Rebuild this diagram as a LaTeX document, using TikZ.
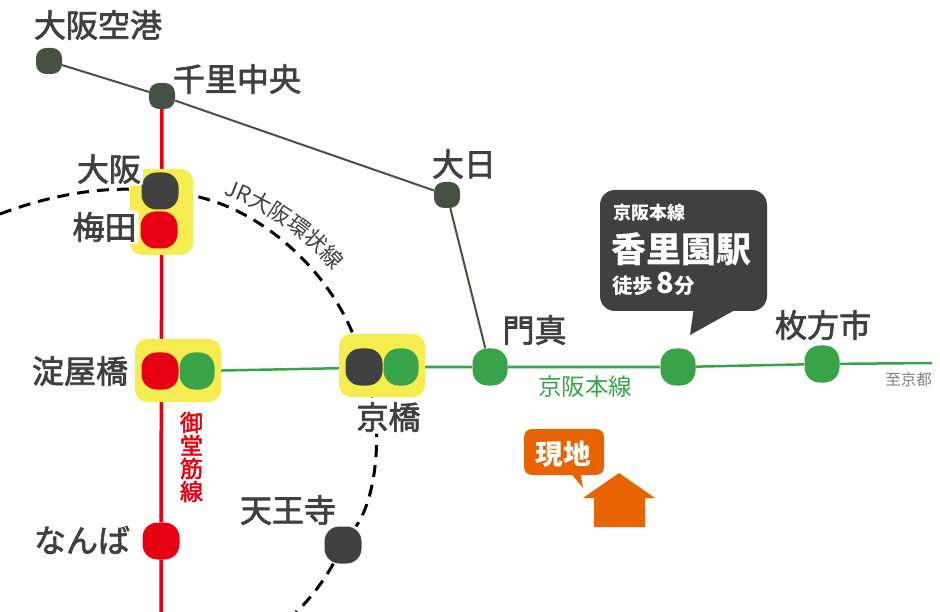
\documentclass[tikz,border=0pt]{standalone}
\usepackage{fontspec}
\setmainfont{Noto Sans CJK JP}
\newfontface\medface[FakeBold=2.2]{Noto Sans CJK JP}
\usetikzlibrary{backgrounds,decorations.text}
\definecolor{inkgray}{HTML}{404040}
\definecolor{linegreen}{HTML}{38A348}
\definecolor{linered}{HTML}{E60012}
\definecolor{linedark}{HTML}{465044}
\definecolor{hubyellow}{HTML}{F5EC50}
\definecolor{siteorange}{HTML}{E86400}
\tikzset{
	small stop/.style={fill=linedark, rectangle, rounded corners=10pt, minimum size=26pt, inner sep=0pt},
	big stop/.style={rectangle, rounded corners=15pt, minimum size=37pt, inner sep=0pt},
	green stop/.style={big stop, fill=linegreen, minimum width=35pt},
	hub/.style={fill=hubyellow, rectangle, rounded corners=12pt, inner sep=0pt},
	stop label/.style={text=inkgray, inner sep=0pt, font=\fontsize{32}{32}\medface},
	halo label/.style={stop label, fill=white, rounded corners=3pt, inner sep=2pt},
	ring/.style={black, line width=3pt, dash pattern=on 12pt off 8pt},
	callout text/.style={text=white, inner sep=0pt, anchor=west},
}
\begin{document}
\begin{tikzpicture}[x=1pt, y=-1pt]
	\useasboundingbox (0,0) rectangle (940,612);
	%\draw[help lines] (0,0) grid[step=100pt] (940,612);
	\node[hub, minimum width=63pt, minimum height=86pt] (umedahub) at (161.5,212) {};
	\node[hub, minimum width=86pt, minimum height=63pt] (yodoyabashihub) at (178,370.5) {};
	\node[hub, minimum width=86pt, minimum height=63pt] (kyobashihub) at (382,365.5) {};

	\node[small stop] (airport) at (49,61) {};
	\node[small stop] (senri) at (162,96) {};
	\node[small stop] (dainichi) at (447,195) {};
	\node[big stop, fill=inkgray] (osaka) at (160,191) {};
	\node[big stop, fill=linered] (umeda) at (159,230) {};
	\node[big stop, fill=linered] (yodoyabashi) at (160,371) {};
	\node[green stop] (yodoyabashigreen) at (197,371) {};
	\node[big stop, fill=inkgray] (kyobashi) at (364,367) {};
	\node[green stop] (kyobashigreen) at (401,367) {};
	\node[big stop, fill=linered] (namba) at (161,541) {};
	\node[big stop, fill=inkgray] (tennoji) at (343,545) {};
	\node[green stop] (kadoma) at (490,367) {};
	\node[green stop] (kori) at (678,367) {};
	\node[green stop] (hirakata) at (822,364) {};

	\coordinate (redend) at (161,612);
	\coordinate (kyotoend) at (932,363);
	\coordinate (ringwest) at (0,214);
	\coordinate (ringsouth) at (296,612);

	\node[stop label] (airportlabel) at (98,25) {大阪空港};
	\node[stop label] (senrilabel) at (237,79) {千里中央};
	\node[halo label] (osakalabel) at (109,169) {大阪};
	\node[halo label] (umedalabel) at (104.5,227) {梅田};
	\node[stop label] (yodoyabashilabel) at (80,371) {淀屋橋};
	\node[stop label] (nambalabel) at (82,540) {なんば};
	\node[stop label] (tennojilabel) at (288,510) {天王寺};
	\node[halo label] (kyobashilabel) at (388.5,417) {京橋};
	\node[stop label] (dainichilabel) at (464,164) {大日};
	\node[stop label] (kadomalabel) at (534.5,330) {門真};
	\node[stop label] (hirakatalabel) at (823,325) {枚方市};

	\node[text=linegreen, inner sep=0pt, font=\fontsize{23.5}{24}\selectfont] (keihanlabel) at (585,387) {京阪本線};
	\node[text=gray, inner sep=0pt, font=\fontsize{15.5}{16}\selectfont] (kyotolabel) at (908.5,380) {至京都};
	\node[text=linered, inner sep=0pt, align=center, font=\fontsize{23}{23}\medface] (midosujilabel) at (191.5,457) {御\\堂\\筋\\線};
	\path[decorate, decoration={text along path, text align={align=center},
		text={|\fontsize{22}{22}\selectfont\color{inkgray}|JR大阪環状線}}]
		(216,192) .. controls (265,208) and (308,238) .. (338,277);

	% callout
	\node[fill=inkgray, rectangle, rounded corners=15pt, minimum width=167pt, minimum height=121pt, inner sep=0pt] (callout) at (683.5,250.5) {};
	\coordinate (callouttip) at (690,335);
	\fill[inkgray] (695,300) -- (callouttip) -- (735,310) -- cycle;
	\node[callout text, font=\fontsize{18}{18}\bfseries\selectfont] (calloutline) at (613,213) {京阪本線};
	\node[callout text, font=\fontsize{35}{35}\bfseries\selectfont] (calloutname) at (611,249) {香里園駅};
	\node[callout text, font=\fontsize{20.5}{21}\bfseries\selectfont] (calloutwalk) at (612,284) {徒歩\hspace{3pt}{\fontsize{29}{29}\selectfont 8}\hspace{1pt}分};

	% site
	\node[fill=siteorange, rectangle, rounded corners=8pt, minimum width=80pt, minimum height=46pt, inner sep=0pt] (sitebox) at (564,452) {};
	\coordinate (sitetip) at (583,488);
	\fill[siteorange] (568,470) -- (sitetip) -- (580,470) -- cycle;
	\node[text=white, inner sep=0pt, font=\fontsize{27.5}{28}\bfseries\selectfont] (sitelabel) at (563,454) {現地};
	\fill[siteorange] (619,473) -- (655,498) -- (645,498) -- (645,527) -- (594,527) -- (594,498) -- (583,498) -- cycle;

	\begin{scope}[on background layer]
		\draw[linedark, line width=2pt] (airport) -- (senri) -- (dainichi) -- (kadoma);
		\draw[linered, line width=3.5pt] (senri) -- (namba) -- (redend);
		\draw[linegreen, line width=2.5pt] (yodoyabashigreen) -- (kyobashigreen) -- (kadoma) -- (kori) -- (hirakata) -- (kyotoend);
		\draw[ring] (ringwest) .. controls (50,195) and (100,187) .. (osaka);
		\draw[ring] (osaka) .. controls (260,203) and (335,275) .. (kyobashi);
		\draw[ring] (kyobashi) .. controls (382,425) and (378,495) .. (tennoji);
		\draw[ring] (tennoji) .. controls (330,570) and (315,595) .. (ringsouth);
	\end{scope}
\end{tikzpicture}
\end{document}
